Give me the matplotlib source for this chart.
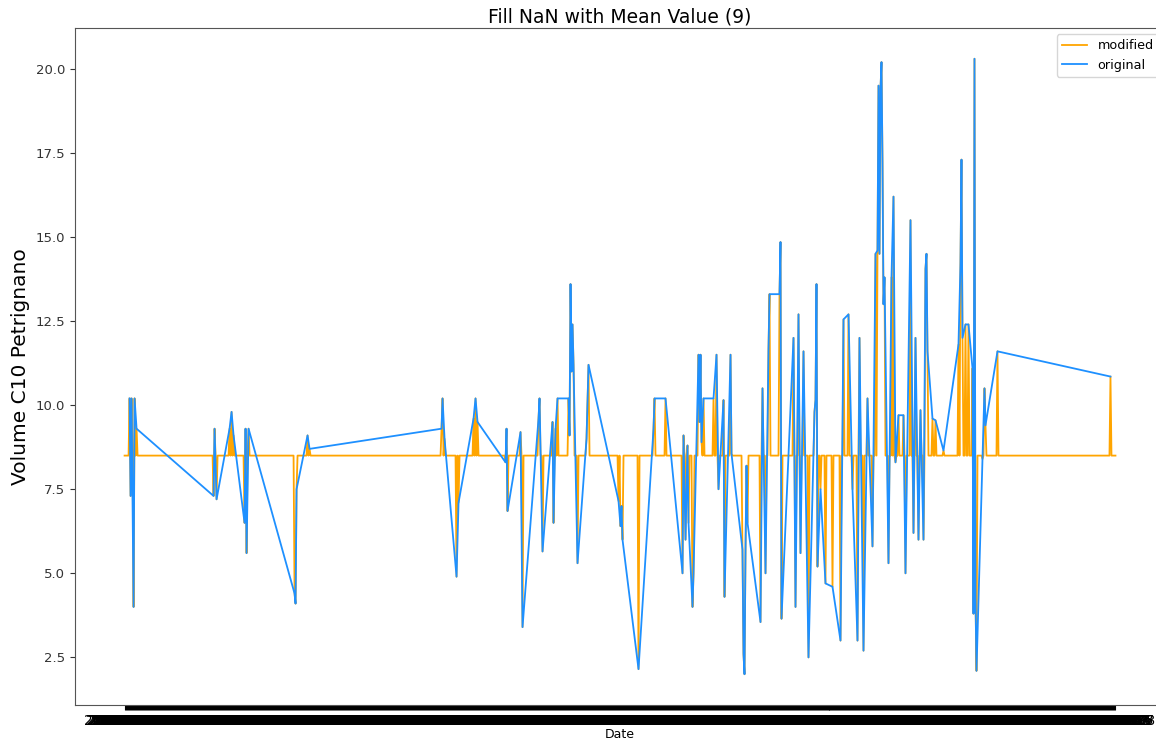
import numpy as np
import pandas as pd
import matplotlib
matplotlib.use("Agg")
import matplotlib.pyplot as plt


# ============================================================
# DATA
# ============================================================

N_DAYS = 992
START_DATE = "2018-01-01"
FILL_VALUE = 8.5   # mean used to fill the gaps

# days (offset from START_DATE) where the original series has a value
obs_day = [
    5, 6, 7, 9, 10, 12,
    89, 90, 92, 105, 107, 109, 120, 121, 122, 124,
    170, 171, 172, 183, 185,
    317, 318, 320, 332, 334, 349, 351, 353,
    381, 382, 383, 396, 398, 414, 415, 418, 428, 429, 431, 433, 444,
    445, 446, 447, 448, 449, 453, 462, 463, 464,
    494, 496, 497, 498, 514, 529, 530, 541,
    558, 559, 561, 563, 564, 568, 569, 574, 575, 576, 577, 579, 589,
    592, 594, 599, 600, 606, 607, 618, 619, 620, 621, 622, 623,
    636, 638, 641, 644, 645, 655, 656, 657, 669, 671, 674, 676,
    679, 684, 690, 691, 692, 693, 696, 701, 708, 716, 719, 724,
    728, 733, 735, 739, 743, 748, 751, 753, 754, 755, 756, 757, 758,
    759, 760, 764, 767, 769, 771, 774, 779, 781, 786, 789, 791,
    794, 796, 799, 801, 802, 803, 808, 811, 819, 834, 836, 837, 838,
    841, 844, 848, 849, 850, 851, 852, 858, 860, 861, 873, 986,
]

obs_value = [
    10.2, 7.3, 10.2, 4.0, 10.2, 9.3,
    7.3, 9.3, 7.2, 9.3, 9.8, 9.1, 6.5, 9.3, 5.6, 9.3,
    4.4, 4.1, 7.5, 9.1, 8.7,
    9.3, 10.2, 9.0, 4.9, 7.1, 9.6, 10.2, 9.5,
    8.3, 9.3, 6.85, 9.2, 3.4, 9.6, 10.2, 5.65, 9.5, 6.5, 9.3, 10.2, 10.2,
    9.1, 13.6, 11.0, 12.4, 11.2, 5.3, 9.0, 10.1, 11.2,
    7.15, 6.4, 7.0, 6.0, 2.15, 9.3, 10.2, 10.2,
    5.0, 9.1, 6.0, 8.8, 6.5, 4.0, 5.0, 11.5, 9.5, 11.5, 8.9, 10.2, 10.2,
    11.5, 7.5, 10.15, 4.3, 11.5, 8.55, 5.7, 2.6, 2.0, 5.7, 8.2, 6.5,
    3.55, 10.5, 5.0, 11.65, 13.3, 13.3, 14.85, 3.65, 12.0, 4.0, 12.7, 5.6,
    11.6, 2.5, 9.8, 10.15, 13.6, 5.2, 7.5, 4.7, 4.6, 3.0, 12.55, 12.7,
    7.5, 3.0, 12.0, 2.7, 10.2, 5.8, 14.5, 14.6, 19.5, 14.5, 19.4, 20.2, 17.2,
    13.0, 13.8, 5.3, 13.8, 16.2, 8.3, 9.7, 9.7, 5.0, 15.5, 6.2, 12.0,
    6.0, 9.85, 6.0, 14.05, 14.5, 11.6, 9.6, 9.55, 8.65, 11.8, 14.2, 17.3, 12.0,
    12.4, 12.4, 11.1, 3.8, 20.3, 4.3, 2.1, 8.4, 10.5, 9.4, 11.6, 10.85,
]

dates = pd.date_range(START_DATE, periods=N_DAYS).strftime("%Y-%m-%d")

original = pd.Series(np.nan, index=dates)
original.iloc[obs_day] = obs_value
modified = original.fillna(FILL_VALUE)
observed = original.dropna()


# ============================================================
# PLOT
# ============================================================

fig = plt.figure(figsize=(11.56, 7.42), dpi=100)
ax = fig.add_axes([0.0649, 0.0499, 0.9429, 0.9124])

ax.plot(list(modified.index), modified.values, color="orange",
        linewidth=1.3, label="modified")
ax.plot(list(observed.index), observed.values, color="dodgerblue",
        linewidth=1.3, label="original")

ax.set_title("Fill NaN with Mean Value (9)", fontsize=13.5, pad=4)
ax.set_ylabel("Volume C10 Petrignano", fontsize=14.5)
ax.set_xlabel("Date", fontsize=9)
ax.xaxis.set_label_coords(0.5, -0.034)

ax.set_yticks([2.5, 5.0, 7.5, 10.0, 12.5, 15.0, 17.5, 20.0])
ax.tick_params(axis="y", labelsize=9.5, colors="#333333")
ax.tick_params(axis="x", labelsize=10, pad=3)

for side in ["left", "right", "top", "bottom"]:
    ax.spines[side].set_color("#555555")

ax.legend(loc="upper right", fontsize=9.2)

fig.savefig("out.png", dpi=100)
